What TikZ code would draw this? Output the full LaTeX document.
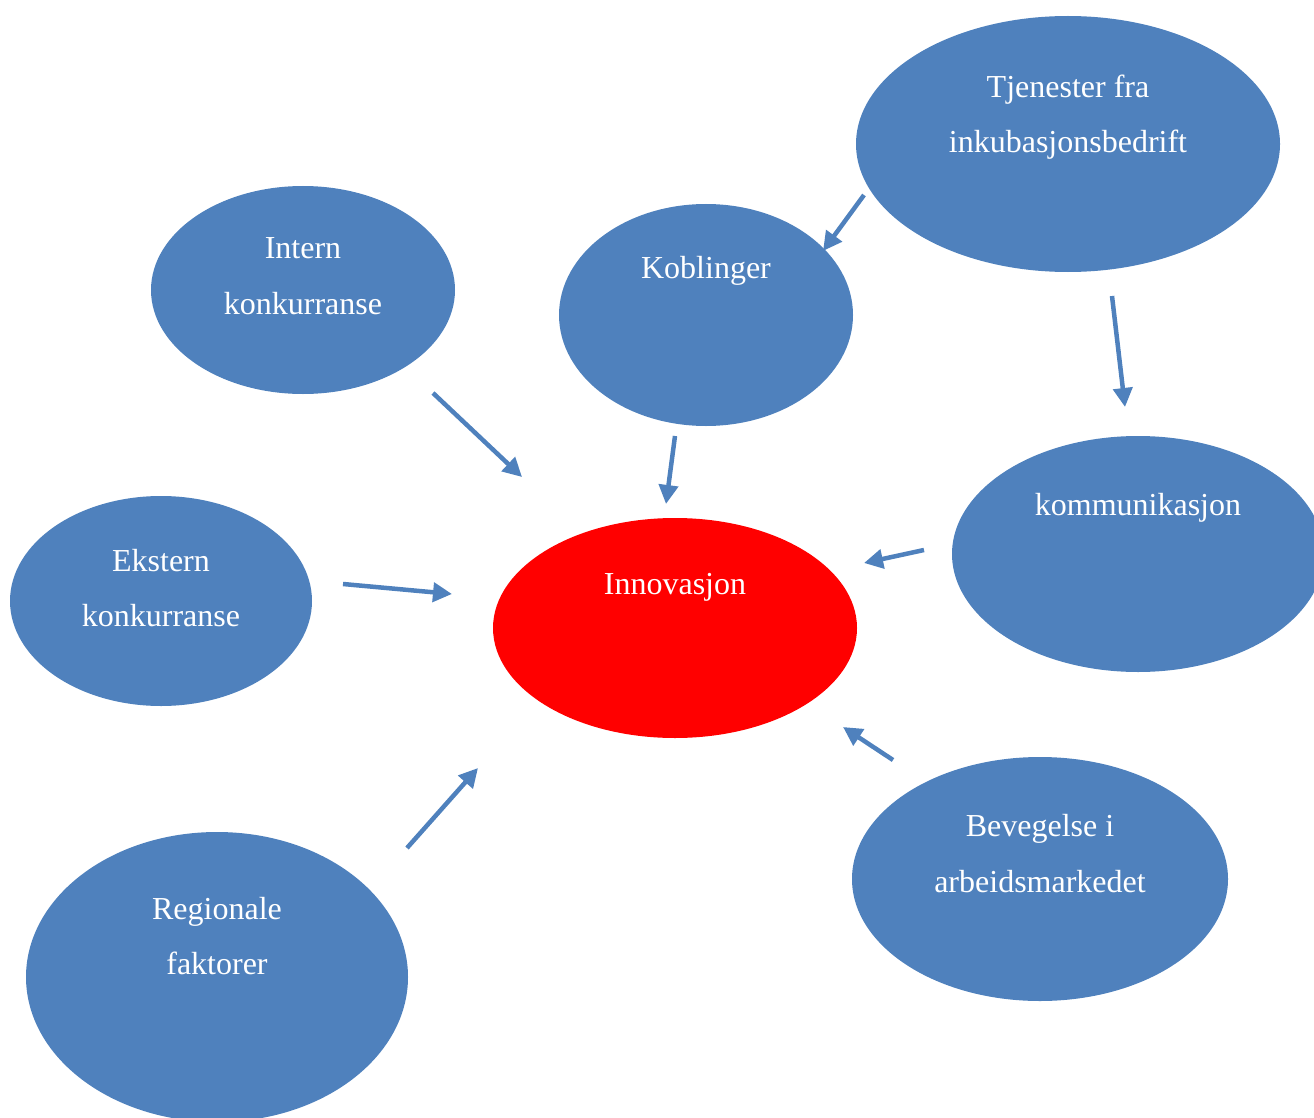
\documentclass[tikz,border=0pt]{standalone}
\usepackage{fontspec}
\setmainfont{Liberation Serif}
\usetikzlibrary{shapes.geometric,arrows.meta,calc}
\definecolor{obl}{HTML}{4F81BD}
\definecolor{ored}{HTML}{FF0000}
\tikzset{
  bub/.style={ellipse, fill=obl, draw=none, inner sep=0pt},
  redbub/.style={ellipse, fill=ored, draw=none, inner sep=0pt},
  txt/.style={text=white, font=\fontsize{32}{38}\selectfont, inner sep=0pt, anchor=base},
  arr/.style={draw=obl, line width=4.5pt, -{Triangle[length=19pt,width=19pt]}},
}
\begin{document}
\begin{tikzpicture}[x=1pt,y=-1pt]
\useasboundingbox (0,0) rectangle (1314,1118);
\clip (0,0) rectangle (1314,1118);
% ellipses
\node[bub, minimum width=424pt, minimum height=256pt] (tj) at (1068,144) {};
\node[bub, minimum width=304pt, minimum height=208pt] (in) at (303,290) {};
\node[bub, minimum width=294pt, minimum height=222pt] (ko) at (706,315) {};
\node[bub, minimum width=302pt, minimum height=210pt] (ek) at (161,601) {};
\node[redbub, minimum width=364pt, minimum height=220pt] (inn) at (675,628) {};
\node[bub, minimum width=372pt, minimum height=236pt] (km) at (1138,554) {};
\node[bub, minimum width=376pt, minimum height=244pt] (bv) at (1040,879) {};
\node[bub, minimum width=382pt, minimum height=290pt] (rg) at (217,977) {};
% texts
\node[txt] (tjA) at (1068,98) {Tjenester fra};
\node[txt] (tjB) at (1068,153) {inkubasjonsbedrift};
\node[txt] (inA) at (303,258) {Intern};
\node[txt] (inB) at (303,314) {konkurranse};
\node[txt] (koA) at (706,278) {Koblinger};
\node[txt] (ekA) at (161,571) {Ekstern};
\node[txt] (ekB) at (161,626) {konkurranse};
\node[txt] (innA) at (675,594) {Innovasjon};
\node[txt] (kmA) at (1138,515) {kommunikasjon};
\node[txt] (bvA) at (1040,836) {Bevegelse i};
\node[txt] (bvB) at (1040,892) {arbeidsmarkedet};
\node[txt] (rgA) at (217,919) {Regionale};
\node[txt] (rgB) at (217,974) {faktorer};
% arrow end points
\coordinate (a1s) at (864,195); \coordinate (a1e) at (823,251);
\coordinate (a2s) at (1112,296); \coordinate (a2e) at (1125,407);
\coordinate (a3s) at (433,393); \coordinate (a3e) at (522,477);
\coordinate (a4s) at (675,436); \coordinate (a4e) at (666,504);
\coordinate (a5s) at (343,584); \coordinate (a5e) at (452,594);
\coordinate (a6s) at (924,550); \coordinate (a6e) at (864,563);
\coordinate (a7s) at (893,760); \coordinate (a7e) at (843,727);
\coordinate (a8s) at (407,848); \coordinate (a8e) at (478,768);
\draw[arr] (a1s) -- (a1e);
\draw[arr] (a2s) -- (a2e);
\draw[arr] (a3s) -- (a3e);
\draw[arr] (a4s) -- (a4e);
\draw[arr] (a5s) -- (a5e);
\draw[arr] (a6s) -- (a6e);
\draw[arr] (a7s) -- (a7e);
\draw[arr] (a8s) -- (a8e);
\end{tikzpicture}
\end{document}
